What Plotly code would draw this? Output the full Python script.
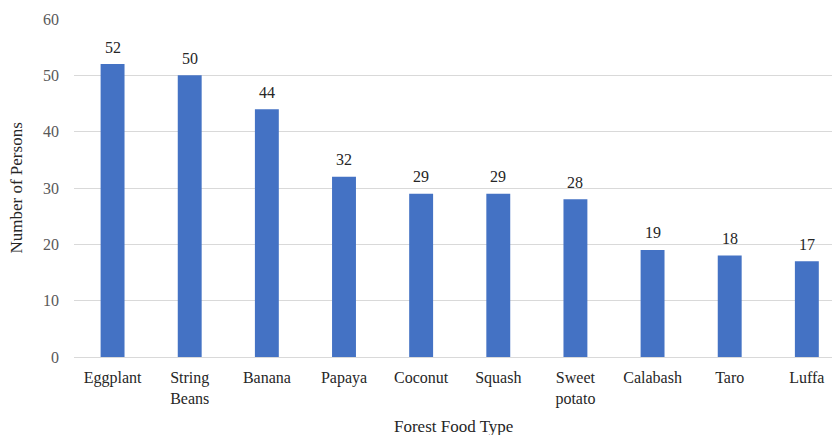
import plotly.graph_objects as go

categories = ["Eggplant", "String<br>Beans", "Banana", "Papaya", "Coconut", "Squash",
              "Sweet<br>potato", "Calabash", "Taro", "Luffa"]
values = [52, 50, 44, 32, 29, 29, 28, 19, 18, 17]
y_ticks = [0, 10, 20, 30, 40, 50, 60]

FONT = "Liberation Serif"
fig = go.Figure()
fig.add_trace(go.Bar(x=list(range(len(categories))), y=values, width=0.31,
                     marker=dict(color="#4472C4", line=dict(width=0))))
for i, v in enumerate(values):
    fig.add_annotation(x=i, y=v, text=str(v), showarrow=False, yshift=17,
                       font=dict(family=FONT, size=16, color="#262626"))

fig.add_annotation(text="Forest Food Type", xref="paper", yref="paper", x=0.5, y=0,
                   yshift=-58, yanchor="top", showarrow=False,
                   font=dict(family=FONT, size=17, color="#262626"))
fig.add_annotation(text="Number of Persons", xref="paper", yref="paper", x=0, y=0.5,
                   xshift=-47, xanchor="right", textangle=-90, showarrow=False,
                   font=dict(family=FONT, size=17, color="#262626"))

fig.update_layout(
    width=832, height=435,
    margin=dict(l=74, r=0, t=19, b=78),
    plot_bgcolor="white", paper_bgcolor="white",
    showlegend=False,
    font=dict(family=FONT, size=16, color="#404040"),
    xaxis=dict(tickmode="array", tickvals=list(range(len(categories))), ticktext=categories,
               range=[-0.5, 9.326], showgrid=False, showline=False, zeroline=False,
               automargin=False,
               ticks="outside", ticklen=6, tickcolor="rgba(0,0,0,0)",
               tickfont=dict(family=FONT, size=16, color="#262626")),
    yaxis=dict(range=[0, 60], tickvals=y_ticks, showgrid=True, gridcolor="#D9D9D9",
               gridwidth=1, zeroline=True, zerolinecolor="#D9D9D9", zerolinewidth=1,
               showline=False, ticks="", ticklabelstandoff=14, automargin=False,
               tickfont=dict(family=FONT, size=16, color="#595959")),
)
fig.write_html("out.html", config={"displayModeBar": False},
               post_script="document.body.style.margin='0';document.body.style.overflow='hidden';")
